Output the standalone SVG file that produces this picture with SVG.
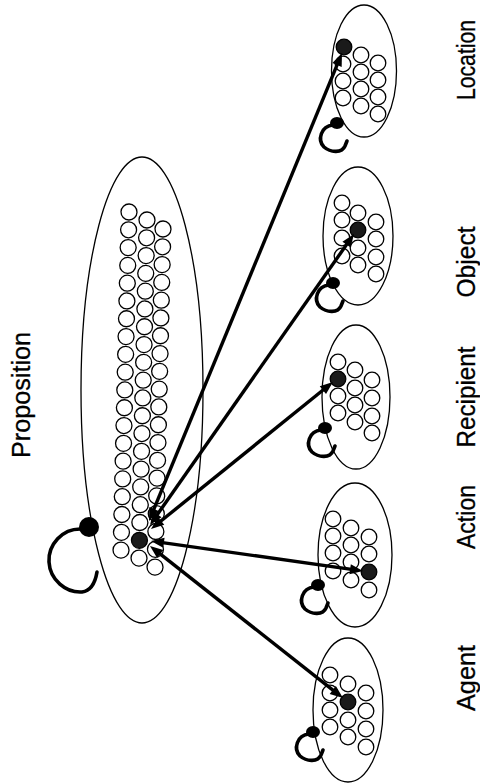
<svg xmlns="http://www.w3.org/2000/svg" xmlns:xlink="http://www.w3.org/1999/xlink" width="480" height="784" viewBox="0 0 480 784">
  <style>
    .shell { fill: none; stroke: #000; stroke-width: 1.3; }
    .unit { fill: #fff; stroke: #000; stroke-width: 1.3; }
    .active { fill: #1a1a1a; stroke: #000; stroke-width: 1.3; }
    .blob { fill: #000; }
    .loop { fill: none; stroke: #000; stroke-width: 3.6; stroke-linecap: round; }
    .link { stroke: #000; stroke-width: 3.4; fill: none; }
    .tip { fill: #000; }
    .label { font-family: "Liberation Sans", Arial, Helvetica, sans-serif; font-size: 26px; fill: #000; text-anchor: middle; stroke: #000; stroke-width: 0.3; }
  </style>
  <defs>
    <!-- arrowhead pointing along +x, tip at the origin -->
    <path id="arrowhead" class="tip" d="M0,0 L-13,-5 L-13,5 z"/>
    <!-- self-connection loop for the small role pools, drawn relative to its blob -->
    <g id="selfloop">
      <ellipse class="blob" cx="0" cy="0" rx="7" ry="6"/>
      <path class="loop" d="M-4,2 C-16,3 -20,17 -13,24 C-6,30 5,30 8,23 L10,18"/>
    </g>
  </defs>

  <!-- proposition pool: 3 columns of 20 units -->
  <g id="proposition">
    <ellipse class="shell" cx="142" cy="390" rx="61" ry="233"/>
    <g transform="translate(129,212) rotate(1.35)">
      <circle class="unit" cx="0" cy="0" r="8"/><circle class="unit" cx="0" cy="17.8" r="8"/><circle class="unit" cx="0" cy="35.6" r="8"/><circle class="unit" cx="0" cy="53.4" r="8"/><circle class="unit" cx="0" cy="71.2" r="8"/>
      <circle class="unit" cx="0" cy="89" r="8"/><circle class="unit" cx="0" cy="106.8" r="8"/><circle class="unit" cx="0" cy="124.6" r="8"/><circle class="unit" cx="0" cy="142.4" r="8"/><circle class="unit" cx="0" cy="160.2" r="8"/>
      <circle class="unit" cx="0" cy="178" r="8"/><circle class="unit" cx="0" cy="195.8" r="8"/><circle class="unit" cx="0" cy="213.6" r="8"/><circle class="unit" cx="0" cy="231.4" r="8"/><circle class="unit" cx="0" cy="249.2" r="8"/>
      <circle class="unit" cx="0" cy="267" r="8"/><circle class="unit" cx="0" cy="284.8" r="8"/><circle class="unit" cx="0" cy="302.6" r="8"/><circle class="unit" cx="0" cy="320.4" r="8"/><circle class="unit" cx="0" cy="338.2" r="8"/>
    </g>
    <g transform="translate(147,220) rotate(1.35)">
      <circle class="unit" cx="0" cy="0" r="8"/><circle class="unit" cx="0" cy="17.8" r="8"/><circle class="unit" cx="0" cy="35.6" r="8"/><circle class="unit" cx="0" cy="53.4" r="8"/><circle class="unit" cx="0" cy="71.2" r="8"/>
      <circle class="unit" cx="0" cy="89" r="8"/><circle class="unit" cx="0" cy="106.8" r="8"/><circle class="unit" cx="0" cy="124.6" r="8"/><circle class="unit" cx="0" cy="142.4" r="8"/><circle class="unit" cx="0" cy="160.2" r="8"/>
      <circle class="unit" cx="0" cy="178" r="8"/><circle class="unit" cx="0" cy="195.8" r="8"/><circle class="unit" cx="0" cy="213.6" r="8"/><circle class="unit" cx="0" cy="231.4" r="8"/><circle class="unit" cx="0" cy="249.2" r="8"/>
      <circle class="unit" cx="0" cy="267" r="8"/><circle class="unit" cx="0" cy="284.8" r="8"/><circle class="unit" cx="0" cy="302.6" r="8"/><circle class="active" cx="0" cy="320.4" r="8"/><circle class="unit" cx="0" cy="338.2" r="8"/>
    </g>
    <g transform="translate(163,229) rotate(1.35)">
      <circle class="unit" cx="0" cy="0" r="8"/><circle class="unit" cx="0" cy="17.8" r="8"/><circle class="unit" cx="0" cy="35.6" r="8"/><circle class="unit" cx="0" cy="53.4" r="8"/><circle class="unit" cx="0" cy="71.2" r="8"/>
      <circle class="unit" cx="0" cy="89" r="8"/><circle class="unit" cx="0" cy="106.8" r="8"/><circle class="unit" cx="0" cy="124.6" r="8"/><circle class="unit" cx="0" cy="142.4" r="8"/><circle class="unit" cx="0" cy="160.2" r="8"/>
      <circle class="unit" cx="0" cy="178" r="8"/><circle class="unit" cx="0" cy="195.8" r="8"/><circle class="unit" cx="0" cy="213.6" r="8"/><circle class="unit" cx="0" cy="231.4" r="8"/><circle class="unit" cx="0" cy="249.2" r="8"/>
      <circle class="unit" cx="0" cy="267" r="8"/><circle class="unit" cx="0" cy="284.8" r="8"/><circle class="unit" cx="0" cy="302.6" r="8"/><circle class="unit" cx="0" cy="320.4" r="8"/><circle class="unit" cx="0" cy="338.2" r="8"/>
    </g>
    <circle class="blob" cx="89" cy="527" r="10"/>
    <path class="loop" stroke-width="4.2" d="M82,529 C62,528 48,545 49,562 C50,580 66,593 82,592 C90,591 95,584 97,572"/>
    <text class="label" transform="translate(30,395) rotate(-90)" textLength="126" lengthAdjust="spacingAndGlyphs">Proposition</text>
  </g>

  <!-- role pools: 3 columns of 4 units each, one active unit -->
  <g id="location">
    <ellipse class="shell" cx="364" cy="71" rx="32.5" ry="66"/>
    <circle class="active" cx="344" cy="47" r="7.8"/><circle class="unit" cx="343" cy="64" r="7.8"/><circle class="unit" cx="343" cy="81" r="7.8"/><circle class="unit" cx="343" cy="98" r="7.8"/>
    <circle class="unit" cx="361" cy="55" r="7.8"/><circle class="unit" cx="361" cy="72" r="7.8"/><circle class="unit" cx="361" cy="89" r="7.8"/><circle class="unit" cx="361" cy="106" r="7.8"/>
    <circle class="unit" cx="378" cy="63" r="7.8"/><circle class="unit" cx="378" cy="80" r="7.8"/><circle class="unit" cx="378" cy="97" r="7.8"/><circle class="unit" cx="378" cy="114" r="7.8"/>
    <use xlink:href="#selfloop" transform="translate(337,123)"/>
    <text class="label" transform="translate(475,60) rotate(-90)" textLength="80" lengthAdjust="spacingAndGlyphs">Location</text>
  </g>

  <g id="object">
    <ellipse class="shell" cx="358" cy="236" rx="35" ry="69"/>
    <circle class="unit" cx="342" cy="203" r="7.8"/><circle class="unit" cx="342" cy="220" r="7.8"/><circle class="unit" cx="342" cy="238" r="7.8"/><circle class="unit" cx="342" cy="256" r="7.8"/>
    <circle class="unit" cx="358" cy="213" r="7.8"/><circle class="active" cx="358" cy="230" r="7.8"/><circle class="unit" cx="358" cy="248" r="7.8"/><circle class="unit" cx="358" cy="265" r="7.8"/>
    <circle class="unit" cx="376" cy="222" r="7.8"/><circle class="unit" cx="376" cy="239" r="7.8"/><circle class="unit" cx="376" cy="257" r="7.8"/><circle class="unit" cx="376" cy="274" r="7.8"/>
    <use xlink:href="#selfloop" transform="translate(333,283)"/>
    <text class="label" transform="translate(475,262) rotate(-90)" textLength="71" lengthAdjust="spacingAndGlyphs">Object</text>
  </g>

  <g id="recipient">
    <ellipse class="shell" cx="356" cy="397" rx="34" ry="72"/>
    <circle class="unit" cx="338" cy="362" r="7.8"/><circle class="active" cx="338" cy="379" r="7.8"/><circle class="unit" cx="338" cy="396" r="7.8"/><circle class="unit" cx="338" cy="413" r="7.8"/>
    <circle class="unit" cx="355" cy="370" r="7.8"/><circle class="unit" cx="355" cy="388" r="7.8"/><circle class="unit" cx="355" cy="405" r="7.8"/><circle class="unit" cx="355" cy="422" r="7.8"/>
    <circle class="unit" cx="372" cy="380" r="7.8"/><circle class="unit" cx="372" cy="398" r="7.8"/><circle class="unit" cx="372" cy="416" r="7.8"/><circle class="unit" cx="372" cy="433" r="7.8"/>
    <use xlink:href="#selfloop" transform="translate(325,428)"/>
    <text class="label" transform="translate(475,397) rotate(-90)" textLength="101" lengthAdjust="spacingAndGlyphs">Recipient</text>
  </g>

  <g id="action">
    <ellipse class="shell" cx="355" cy="555" rx="37" ry="72"/>
    <circle class="unit" cx="333" cy="519" r="7.8"/><circle class="unit" cx="333" cy="536" r="7.8"/><circle class="unit" cx="333" cy="553" r="7.8"/><circle class="unit" cx="333" cy="571" r="7.8"/>
    <circle class="unit" cx="351" cy="528" r="7.8"/><circle class="unit" cx="351" cy="545" r="7.8"/><circle class="unit" cx="351" cy="562" r="7.8"/><circle class="unit" cx="351" cy="580" r="7.8"/>
    <circle class="unit" cx="369" cy="537" r="7.8"/><circle class="unit" cx="369" cy="554" r="7.8"/><circle class="active" cx="369" cy="572" r="7.8"/><circle class="unit" cx="369" cy="590" r="7.8"/>
    <use xlink:href="#selfloop" transform="translate(318,585)"/>
    <text class="label" transform="translate(475,517) rotate(-90)" textLength="64" lengthAdjust="spacingAndGlyphs">Action</text>
  </g>

  <g id="agent">
    <ellipse class="shell" cx="348" cy="710" rx="35" ry="72"/>
    <circle class="unit" cx="330" cy="675" r="7.8"/><circle class="unit" cx="330" cy="693" r="7.8"/><circle class="unit" cx="330" cy="710" r="7.8"/><circle class="unit" cx="330" cy="727" r="7.8"/>
    <circle class="unit" cx="348" cy="684" r="7.8"/><circle class="active" cx="348" cy="702" r="7.8"/><circle class="unit" cx="348" cy="720" r="7.8"/><circle class="unit" cx="348" cy="737" r="7.8"/>
    <circle class="unit" cx="366" cy="693" r="7.8"/><circle class="unit" cx="366" cy="711" r="7.8"/><circle class="unit" cx="366" cy="729" r="7.8"/><circle class="unit" cx="366" cy="747" r="7.8"/>
    <use xlink:href="#selfloop" transform="translate(313,732)"/>
    <text class="label" transform="translate(475,678) rotate(-90)" textLength="66" lengthAdjust="spacingAndGlyphs">Agent</text>
  </g>

  <!-- two-way connections between the proposition hub and each role pool -->
  <g id="connectors">
    <line class="link" x1="152.05" y1="513.6" x2="338.95" y2="60.4"/>
    <use xlink:href="#arrowhead" transform="translate(342,53) rotate(-67.6)"/>
    <use xlink:href="#arrowhead" transform="translate(149,521) rotate(112.4)"/>

    <line class="link" x1="154.59" y1="518.45" x2="349.41" y2="240.55"/>
    <use xlink:href="#arrowhead" transform="translate(354,234) rotate(-55)"/>
    <use xlink:href="#arrowhead" transform="translate(150,525) rotate(125)"/>

    <line class="link" x1="157.22" y1="523.97" x2="326.78" y2="387.03"/>
    <use xlink:href="#arrowhead" transform="translate(333,382) rotate(-38.9)"/>
    <use xlink:href="#arrowhead" transform="translate(151,529) rotate(141.1)"/>

    <line class="link" x1="158.92" y1="542.12" x2="355.08" y2="569.88"/>
    <use xlink:href="#arrowhead" transform="translate(363,571) rotate(8.05)"/>
    <use xlink:href="#arrowhead" transform="translate(151,541) rotate(188.05)"/>

    <line class="link" x1="156.28" y1="550.95" x2="336.72" y2="693.05"/>
    <use xlink:href="#arrowhead" transform="translate(343,698) rotate(38.2)"/>
    <use xlink:href="#arrowhead" transform="translate(150,546) rotate(218.2)"/>
  </g>
</svg>
